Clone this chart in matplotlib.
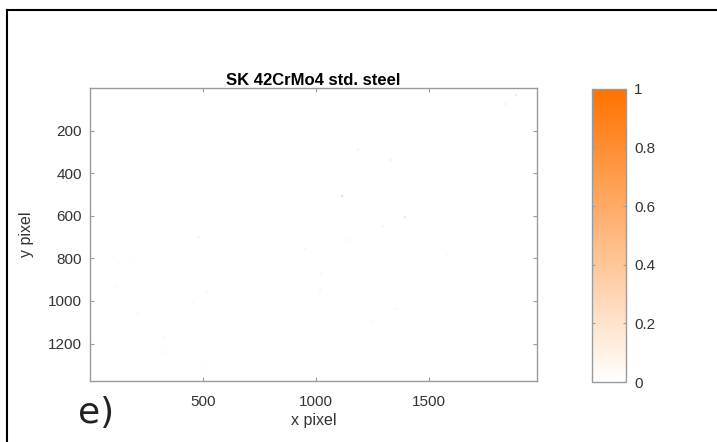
"""SK 42CrMo4 std. steel - nearly empty defect map with orange colorbar."""
import numpy as np
import matplotlib
matplotlib.use("Agg")
import matplotlib.pyplot as plt
from matplotlib.colors import LinearSegmentedColormap
from matplotlib.lines import Line2D

plt.rcParams["font.family"] = ["Liberation Sans", "DejaVu Sans"]

# image size (pixels of the camera frame)
img_w = 1980
img_h = 1375

# the few faint spots visible in the map (x, y in image pixels, value 0..1)
spot_x = [1117, 1394, 1187, 1333, 1888, 1839, 1297, 1147, 953, 1024, 1020, 1359,
          1245, 1583, 482, 99, 200, 121, 517, 455, 214, 329, 333, 503]
spot_y = [507, 606, 291, 338, 33, 75, 648, 714, 756, 869, 948, 1038,
          1094, 784, 700, 793, 789, 930, 953, 1009, 1061, 1169, 1240, 1315]
spot_v = [0.30, 0.22, 0.12, 0.12, 0.18, 0.08, 0.10, 0.08, 0.07, 0.07, 0.08, 0.08,
          0.05, 0.05, 0.10, 0.06, 0.06, 0.07, 0.07, 0.05, 0.07, 0.05, 0.08, 0.05]

xticks = [500, 1000, 1500]
yticks = [200, 400, 600, 800, 1000, 1200]
cticks = [0, 0.2, 0.4, 0.6, 0.8, 1]
cticklabels = ["0", "0.2", "0.4", "0.6", "0.8", "1"]

img = np.zeros((img_h, img_w))
r = 5
for x, y, v in zip(spot_x, spot_y, spot_v):
    img[max(y - r, 0):y + r, max(x - r, 0):x + r] = v

cmap = LinearSegmentedColormap.from_list("wo", ["#ffffff", "#ff7200"])
grey = "#9a9a9a"
txt = "#333333"

fig = plt.figure(figsize=(7.17, 4.42), dpi=100)
W, H = 717, 442

ax = fig.add_axes([90 / W, 1 - 381 / H, 447 / W, 293 / H])
im = ax.imshow(img, cmap=cmap, vmin=0, vmax=1, aspect="auto",
               extent=(0.5, img_w + 0.5, img_h + 0.5, 0.5), interpolation="antialiased")
ax.set_xticks(xticks)
ax.set_yticks(yticks)
ax.tick_params(direction="in", top=True, right=True, length=3, width=0.8,
               color=grey, labelcolor=txt, labelsize=11, pad=6)
ax.tick_params(axis="x", pad=10)
for s in ax.spines.values():
    s.set_color(grey)
    s.set_linewidth(1.0)
ax.set_title("SK 42CrMo4 std. steel", fontsize=12, fontweight="bold", pad=2)
ax.set_xlabel("x pixel", fontsize=11.5, color=txt, labelpad=3)
ax.set_ylabel("y pixel", fontsize=11.5, color=txt, labelpad=10)

cax = fig.add_axes([592 / W, 1 - 382 / H, 34 / W, 293 / H])
cb = fig.colorbar(im, cax=cax, ticks=cticks)
cb.ax.set_yticklabels(cticklabels)
cb.outline.set_edgecolor(grey)
cb.outline.set_linewidth(1.0)
cax.tick_params(direction="in", left=True, right=True, length=2, width=0.8,
                color=grey, labelcolor=txt, labelsize=11, pad=6)

fig.text(78 / W, 1 - 423 / H, "e)", fontsize=26, family="DejaVu Sans",
         color="#222222", ha="left", va="baseline")

# frame of the panel (cropped)
fig.add_artist(Line2D([7 / W, 1], [1 - 10 / H, 1 - 10 / H], color="black", lw=1.5,
                      transform=fig.transFigure))
fig.add_artist(Line2D([7 / W, 7 / W], [0, 1 - 10 / H], color="black", lw=1.5,
                      transform=fig.transFigure))

fig.savefig("out.png", dpi=100)
